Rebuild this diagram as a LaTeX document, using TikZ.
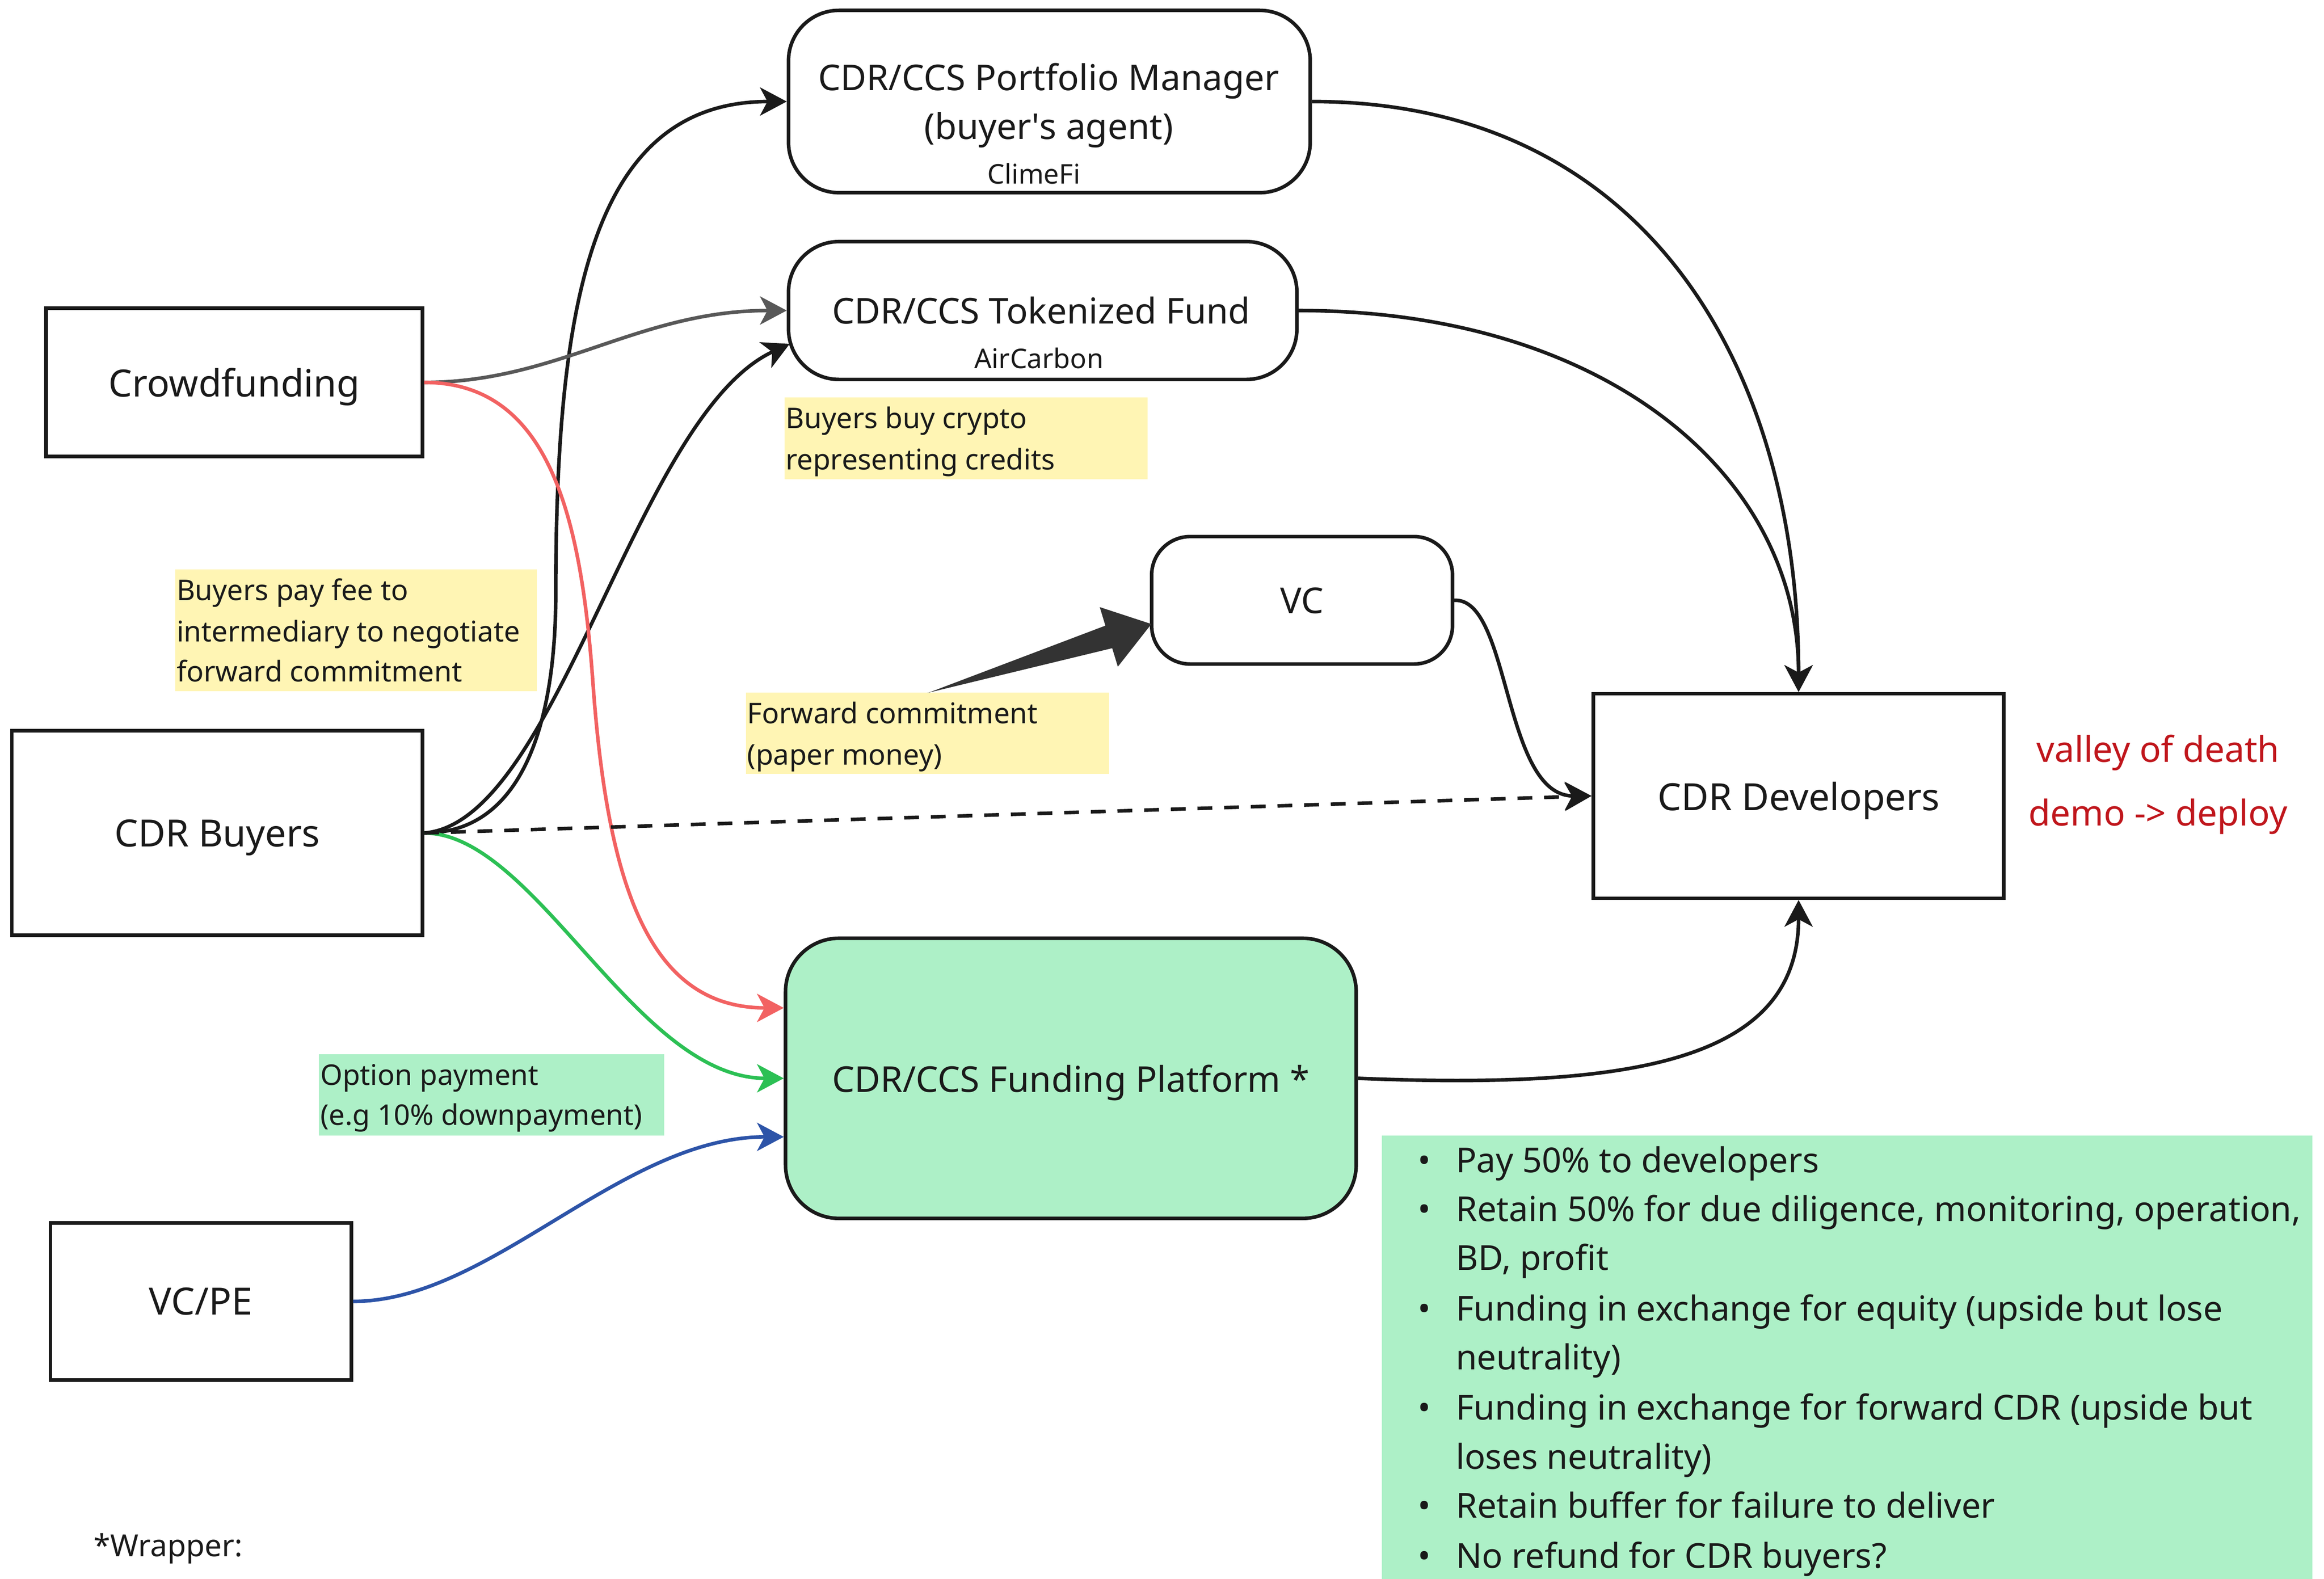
\documentclass[tikz,border=0pt]{standalone}
\usepackage{fontspec}
\setmainfont{Noto Sans}
\usetikzlibrary{arrows.meta,calc}
\definecolor{mint}{RGB}{173,240,199}
\definecolor{paleyellow}{RGB}{255,245,180}
\definecolor{linered}{RGB}{242,98,98}
\definecolor{linegreen}{RGB}{44,192,84}
\definecolor{lineblue}{RGB}{45,84,168}
\definecolor{linegray}{RGB}{88,88,88}
\definecolor{ink}{RGB}{26,26,26}
\definecolor{wedgegray}{RGB}{51,51,51}
\definecolor{deathred}{RGB}{192,22,28}
\begin{document}
\begin{tikzpicture}[x=1pt,y=-1pt,
  every node/.style={inner sep=0pt, text=ink},
  box/.style={draw=ink, fill=white, line width=2.4pt},
  main/.style={font=\fontsize{24}{29}\selectfont},
  one/.style={main, text depth=0pt},
  big/.style={font=\fontsize{25.3}{30}\selectfont, text depth=0pt},
  sub/.style={font=\fontsize{18.3}{22}\selectfont},
  small/.style={font=\fontsize{19.2}{23}\selectfont, anchor=base west},
  bul/.style={font=\fontsize{23.2}{28}\selectfont, anchor=base west},
  dot/.style={font=\fontsize{23.2}{28}\selectfont, anchor=base},
  conn/.style={line width=2.4pt, color=ink, -{Stealth[length=18pt,width=19pt,inset=5pt]}},
]
\useasboundingbox (0,0) rectangle (1568,1065);
\fill[white] (0,0) rectangle (1568,1065);

% ---------- notes (backgrounds) ----------
\node[fill=paleyellow, minimum width=244pt, minimum height=82pt, anchor=north west] (fee) at (118,384) {};
\node[small] (feeA) at (119,405) {Buyers pay fee to};
\node[small] (feeB) at (119,433) {intermediary to negotiate};
\node[small] (feeC) at (119,460) {forward commitment};

\node[fill=paleyellow, minimum width=245pt, minimum height=55pt, anchor=north west] (crypto) at (529,268) {};
\node[small] (cryA) at (530,289) {Buyers buy crypto};
\node[small] (cryB) at (530,317) {representing credits};

\node[fill=paleyellow, minimum width=245pt, minimum height=55pt, anchor=north west] (fwd) at (503,467) {};
\node[small] (fwdA) at (504,488) {Forward commitment};
\node[small] (fwdB) at (504,516) {(paper money)};

\node[fill=mint, minimum width=233pt, minimum height=55pt, anchor=north west] (opt) at (215,711) {};
\node[small] (optA) at (216,732) {Option payment};
\node[small] (optB) at (216,759) {(e.g 10\% downpayment)};

\node[fill=mint, minimum width=628pt, minimum height=304pt, anchor=north west] (notes) at (932,766) {};
\node[bul] (n1) at (982,791) {Pay 50\% to developers};
\node[bul] (n2) at (982,824) {Retain 50\% for due diligence, monitoring, operation,};
\node[bul] (n3) at (982,857) {BD, profit};
\node[bul] (n4) at (982,891) {Funding in exchange for equity (upside but lose};
\node[bul] (n5) at (982,924) {neutrality)};
\node[bul] (n6) at (982,958) {Funding in exchange for forward CDR (upside but};
\node[bul] (n7) at (982,991) {loses neutrality)};
\node[bul] (n8) at (982,1024) {Retain buffer for failure to deliver};
\node[bul] (n9) at (982,1058) {No refund for CDR buyers?};
\node[dot] (d1) at (961,791) {\textbullet};
\node[dot] (d2) at (961,824) {\textbullet};
\node[dot] (d4) at (961,891) {\textbullet};
\node[dot] (d6) at (961,958) {\textbullet};
\node[dot] (d8) at (961,1024) {\textbullet};
\node[dot] (d9) at (961,1058) {\textbullet};

\node[font=\fontsize{20.5}{24}\selectfont, anchor=base west] (wrap) at (63,1050) {*Wrapper:};

% ---------- boxes ----------
\node[box, rounded corners=34pt, minimum width=352pt, minimum height=123pt] (pm) at (708,68.5) {};
\node[main, anchor=base] (pmA) at (707.5,61) {CDR/CCS Portfolio Manager};
\node[main, anchor=base] (pmB) at (707.5,94) {(buyer\textquotesingle s agent)};
\node[sub, anchor=base] (pmC) at (697.5,124) {ClimeFi};

\node[box, rounded corners=34pt, minimum width=343pt, minimum height=93pt] (tf) at (703.5,209.5) {};
\node[main, anchor=base] (tfA) at (702.5,218.5) {CDR/CCS Tokenized Fund};
\node[sub, anchor=base] (tfB) at (701,248.5) {AirCarbon};

\node[box, big, minimum width=254pt, minimum height=100pt] (cf) at (158,258) {Crowdfunding};
\node[box, big, minimum width=277pt, minimum height=138pt] (buyers) at (146.5,562) {CDR Buyers};
\node[box, big, minimum width=203pt, minimum height=106pt] (vcpe) at (135.5,878) {VC/PE};
\node[box, one, rounded corners=26pt, minimum width=203pt, minimum height=86pt] (vc) at (878.5,405) {VC};
\node[box, big, minimum width=277pt, minimum height=138pt] (dev) at (1213.5,537) {CDR Developers};
\node[box, one, fill=mint, rounded corners=36pt, minimum width=385pt, minimum height=189pt] (fp) at (722.5,727.5) {CDR/CCS Funding Platform *};

\node[main, text=deathred, anchor=base] (vod) at (1456,514) {valley of death};
\node[main, text=deathred, anchor=base] (dd) at (1456,557) {demo -> deploy};

% ---------- connectors ----------
\draw[conn] (buyers.east) .. controls +(70,0) and +(0,80) .. (375,400)
            .. controls +(0,-200) and +(-130,0) .. (pm.west);
\draw[conn] (buyers.east) .. controls +(90,-7) and +(-104,48) .. ($(tf.west)+(2,22.5)$);
\draw[conn, color=linegray] (cf.east) .. controls +(90,0) and +(-100,0) .. (tf.west);
\draw[conn, color=linered] (cf.east) .. controls +(85,0) and +(-8,-110) .. (400,460)
            .. controls +(10,140) and +(-90,0) .. ($(fp.west)+(0,-47.5)$);
\draw[conn, color=linegreen] (buyers.east) .. controls +(75,0) and +(-100,0) .. (fp.west);
\draw[conn, color=lineblue] (vcpe.east) .. controls +(93,0) and +(-110,0) .. ($(fp.west)+(0,39.5)$);
\draw[conn, dash pattern=on 10pt off 8pt] (buyers.east) -- (dev.west);
\draw[conn] (vc.east) .. controls +(38,-2) and +(-60,0) .. (dev.west);
\draw[conn] (pm.east) .. controls +(226,0) and +(0,-218) .. (dev.north);
\draw[conn] (tf.east) .. controls +(205,0) and +(0,-148) .. (dev.north);
\draw[conn] (fp.east) .. controls +(185,7.5) and +(0,109) .. (dev.south);

% thick tapered arrow from note to VC
\coordinate (wtip) at ($(vc.west)+(1,16)$);
\fill[wedgegray] ($(fwd.north)+(0,0.5)$) -- ($(fwd.north)+(3,-0.5)$) -- ($(wtip)+(-31,1.1)$) -- ($(wtip)+(-34.8,-11.4)$)
   -- (wtip) -- ($(wtip)+(-22.6,28.8)$) -- ($(wtip)+(-26.4,16.3)$) -- cycle;
\end{tikzpicture}
\end{document}
